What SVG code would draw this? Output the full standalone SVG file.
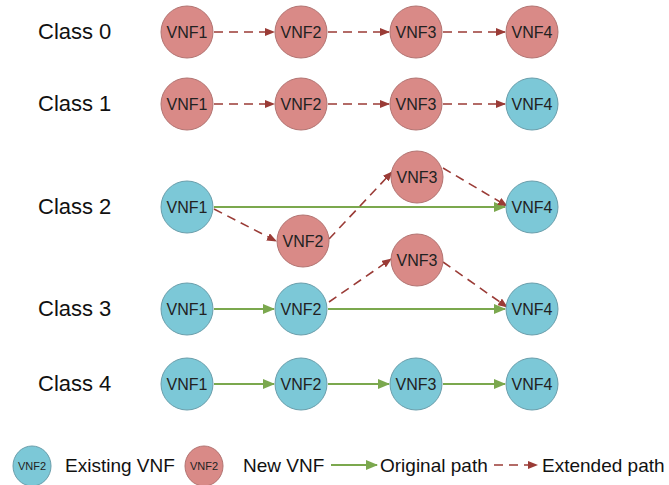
<svg xmlns="http://www.w3.org/2000/svg" width="669" height="485" viewBox="0 0 669 485">
<style>
.lbl{font-family:"Liberation Sans",Arial,sans-serif;font-size:22px;fill:#111}
.nt{font-family:"Liberation Sans",Arial,sans-serif;font-size:16px;fill:#222;text-anchor:middle;dominant-baseline:central}
.new{fill:#D98A87;stroke:#B27472;stroke-width:1}
.old{fill:#7CC8D7;stroke:#6A9EAB;stroke-width:1}
.ext{stroke:#9A3B36;stroke-width:1.6;stroke-dasharray:9,6;fill:none;marker-end:url(#ar)}
.org{stroke:#7BA84E;stroke-width:2.2;fill:none;marker-end:url(#ag)}
.lg{font-family:"Liberation Sans",Arial,sans-serif;font-size:19px;fill:#111}
</style>
<defs>
<marker id="ar" markerWidth="10" markerHeight="8" refX="9" refY="4" orient="auto" markerUnits="userSpaceOnUse"><path d="M0,0 L10,4 L0,8 z" fill="#9A3B36"/></marker>
<marker id="ag" markerWidth="12" markerHeight="10" refX="11" refY="5" orient="auto" markerUnits="userSpaceOnUse"><path d="M0,0 L12,5 L0,10 z" fill="#7BA84E"/></marker>
</defs>
<rect width="669" height="485" fill="#fff"/>
<g id="labels">
<text class="lbl" x="38" y="39">Class 0</text>
<text class="lbl" x="38" y="111">Class 1</text>
<text class="lbl" x="38" y="214">Class 2</text>
<text class="lbl" x="38" y="316">Class 3</text>
<text class="lbl" x="38" y="391">Class 4</text>
</g>
<g id="connectors">
<line class="ext" x1="214" y1="32" x2="274" y2="32"/>
<line class="ext" x1="328" y1="32" x2="389" y2="32"/>
<line class="ext" x1="443" y1="32" x2="505" y2="32"/>
<line class="ext" x1="214" y1="104" x2="274" y2="104"/>
<line class="ext" x1="328" y1="104" x2="389" y2="104"/>
<line class="ext" x1="443" y1="104" x2="505" y2="104"/>
<line class="org" x1="214" y1="207" x2="505" y2="207"/>
<line class="ext" x1="214" y1="209" x2="276" y2="241"/>
<line class="ext" x1="329" y1="239" x2="392" y2="172"/>
<line class="ext" x1="443" y1="168" x2="507" y2="206"/>
<line class="org" x1="214" y1="309" x2="274" y2="309"/>
<line class="org" x1="328" y1="309" x2="505" y2="309"/>
<line class="ext" x1="329" y1="302" x2="391" y2="259"/>
<line class="ext" x1="443" y1="262" x2="507" y2="307"/>
<line class="org" x1="214" y1="384" x2="274" y2="384"/>
<line class="org" x1="328" y1="384" x2="389" y2="384"/>
<line class="org" x1="443" y1="384" x2="505" y2="384"/>
</g>
<g id="c0n1"><circle class="new" cx="187" cy="32" r="26"/><text class="nt" x="187" y="32">VNF1</text></g>
<g id="c0n2"><circle class="new" cx="301" cy="32" r="26"/><text class="nt" x="301" y="32">VNF2</text></g>
<g id="c0n3"><circle class="new" cx="416" cy="32" r="26"/><text class="nt" x="416" y="32">VNF3</text></g>
<g id="c0n4"><circle class="new" cx="532" cy="32" r="26"/><text class="nt" x="532" y="32">VNF4</text></g>
<g id="c1n1"><circle class="new" cx="187" cy="104" r="26"/><text class="nt" x="187" y="104">VNF1</text></g>
<g id="c1n2"><circle class="new" cx="301" cy="104" r="26"/><text class="nt" x="301" y="104">VNF2</text></g>
<g id="c1n3"><circle class="new" cx="416" cy="104" r="26"/><text class="nt" x="416" y="104">VNF3</text></g>
<g id="c1n4"><circle class="old" cx="532" cy="104" r="26"/><text class="nt" x="532" y="104">VNF4</text></g>
<g id="c2n1"><circle class="old" cx="187" cy="207" r="26"/><text class="nt" x="187" y="207">VNF1</text></g>
<g id="c2n2"><circle class="new" cx="303" cy="241" r="26"/><text class="nt" x="303" y="241">VNF2</text></g>
<g id="c2n3"><circle class="new" cx="417" cy="177" r="26"/><text class="nt" x="417" y="177">VNF3</text></g>
<g id="c2n4"><circle class="old" cx="532" cy="207" r="26"/><text class="nt" x="532" y="207">VNF4</text></g>
<g id="c3n1"><circle class="old" cx="187" cy="309" r="26"/><text class="nt" x="187" y="309">VNF1</text></g>
<g id="c3n2"><circle class="old" cx="301" cy="309" r="26"/><text class="nt" x="301" y="309">VNF2</text></g>
<g id="c3n3"><circle class="new" cx="417" cy="260" r="26"/><text class="nt" x="417" y="260">VNF3</text></g>
<g id="c3n4"><circle class="old" cx="532" cy="309" r="26"/><text class="nt" x="532" y="309">VNF4</text></g>
<g id="c4n1"><circle class="old" cx="187" cy="384" r="26"/><text class="nt" x="187" y="384">VNF1</text></g>
<g id="c4n2"><circle class="old" cx="301" cy="384" r="26"/><text class="nt" x="301" y="384">VNF2</text></g>
<g id="c4n3"><circle class="old" cx="416" cy="384" r="26"/><text class="nt" x="416" y="384">VNF3</text></g>
<g id="c4n4"><circle class="old" cx="532" cy="384" r="26"/><text class="nt" x="532" y="384">VNF4</text></g>
<g id="legend">
<ellipse class="old" cx="32" cy="466" rx="19" ry="20"/><text class="nt" x="32" y="466" style="font-size:11px">VNF2</text>
<text class="lg" x="65" y="472">Existing VNF</text>
<ellipse class="new" cx="204" cy="466" rx="19" ry="20"/><text class="nt" x="204" y="466" style="font-size:11px">VNF2</text>
<text class="lg" x="243" y="472">New VNF</text>
<line class="org" x1="331" y1="465" x2="377" y2="465"/>
<text class="lg" x="380" y="472">Original path</text>
<line class="ext" x1="494" y1="465" x2="537" y2="465"/>
<text class="lg" x="542" y="472">Extended path</text>
</g>
</svg>
